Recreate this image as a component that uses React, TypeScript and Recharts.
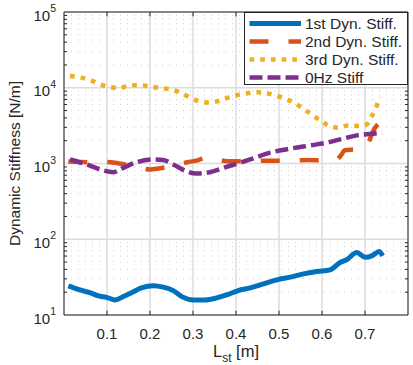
import { LineChart, Line, XAxis, YAxis, CartesianGrid, ReferenceLine } from "recharts";

const FONT = "'Liberation Sans', Arial, Helvetica, sans-serif";
const INK = "#262626";
const GRID = "#dcdcdc";

const xTicks = [0.1, 0.2, 0.3, 0.4, 0.5, 0.6, 0.7];
const yTicks = [10, 100, 1000, 10000, 100000];

// 1st dynamic stiffness
const firstX = [0.01, 0.037, 0.06, 0.08, 0.099, 0.119, 0.138, 0.157, 0.18, 0.208, 0.231, 0.254, 0.274, 0.301, 0.328, 0.355, 0.378, 0.405, 0.433, 0.464, 0.495, 0.526, 0.557, 0.588, 0.619, 0.642, 0.657, 0.681, 0.7, 0.716, 0.733, 0.741];
const firstY = [24.2, 21.4, 19.7, 17.9, 17.1, 15.8, 17.5, 19.7, 22.8, 24.4, 23.3, 21, 17.5, 15.8, 15.8, 16.8, 18.4, 21, 22.8, 25.8, 29.1, 31.6, 34.9, 37.5, 39.5, 49.3, 53.5, 66.8, 58, 60.4, 68.8, 60.4];

// 2nd dynamic stiffness
const secondX = [0.01, 0.035, 0.057, 0.08, 0.107, 0.125, 0.146, 0.17, 0.2, 0.22, 0.242, 0.265, 0.289, 0.31, 0.332, 0.35, 0.37, 0.386, 0.405, 0.425, 0.45, 0.471, 0.495, 0.518, 0.545, 0.567, 0.59, 0.611, 0.63, 0.645, 0.653, 0.675, 0.696, 0.71, 0.719, 0.739];
const secondY = [1060, 1050, 1040, 1050, 1040, 1010, 960, 900, 834, 860, 904, 970, 1045, 1100, 1210, 1150, 1090, 1070, 1070, 1070, 1080, 1090, 1090, 1090, 1100, 1110, 1100, 1090, 1100, 1300, 1500, 1530, 1570, 2000, 2680, 3630];

// 3rd dynamic stiffness
const thirdX = [0.014, 0.04, 0.06, 0.084, 0.107, 0.13, 0.153, 0.177, 0.2, 0.223, 0.247, 0.27, 0.289, 0.312, 0.336, 0.359, 0.382, 0.405, 0.43, 0.45, 0.47, 0.495, 0.518, 0.541, 0.572, 0.595, 0.615, 0.638, 0.661, 0.684, 0.704, 0.716, 0.727, 0.735];
const thirdY = [14300, 13600, 12700, 11100, 10240, 9930, 10800, 10800, 10380, 9930, 9550, 8630, 7640, 6680, 6370, 6680, 7420, 8040, 8500, 8700, 8500, 7800, 7050, 6040, 4590, 3740, 3180, 2970, 3180, 3120, 3290, 4230, 5740, 7500];

// 0 Hz static stiffness
const staticX = [0.014, 0.053, 0.084, 0.115, 0.138, 0.169, 0.208, 0.231, 0.254, 0.285, 0.308, 0.339, 0.378, 0.409, 0.433, 0.479, 0.526, 0.572, 0.611, 0.642, 0.681, 0.719, 0.739];
const staticY = [1130, 970, 834, 767, 877, 1040, 1130, 1110, 970, 790, 738, 767, 904, 1020, 1130, 1390, 1570, 1730, 1880, 2080, 2350, 2470, 2550];

const toRows = (xs: number[], ys: number[]) => xs.map((x, i) => ({ x, y: ys[i] }));

const series = [
  { name: "1st Dyn. Stiff.", rows: toRows(firstX, firstY), color: "#0072BD", width: 5, dash: undefined },
  { name: "2nd Dyn. Stiff.", rows: toRows(secondX, secondY), color: "#D95319", width: 4.5, dash: "19 20" },
  { name: "3rd Dyn. Stiff.", rows: toRows(thirdX, thirdY), color: "#EDB120", width: 4.5, dash: "4.7 6" },
  { name: "0Hz Stiff", rows: toRows(staticX, staticY), color: "#7E2F8E", width: 4.5, dash: "13 5" },
];

// minor log positions 2..9 per decade
const minorY: number[] = [];
for (const d of [10, 100, 1000, 10000]) for (let m = 2; m <= 9; m++) minorY.push(d * m);

const TICK_X = 0.0095; // ~4px inward on x
const TICK_Y = 1.14; // ~4px inward on log y

function YTick(props: any) {
  const { x, y, payload } = props;
  const exp = Math.round(Math.log10(payload.value));
  return (
    <text x={x - 6} y={y + 8.5} textAnchor="end" fill={INK} fontFamily={FONT} fontSize={15}>
      10
      <tspan dy={-8.5} fontSize={10.5}>{exp}</tspan>
    </text>
  );
}

function XTick(props: any) {
  const { x, y, payload } = props;
  return (
    <text x={x} y={y + 21.5} textAnchor="middle" fill={INK} fontFamily={FONT} fontSize={15}>
      {payload.value.toFixed(1)}
    </text>
  );
}

function XLabel(props: any) {
  const vb = props.viewBox;
  const cx = vb.x + vb.width / 2;
  return (
    <text x={cx} y={357} textAnchor="middle" fill={INK} fontFamily={FONT} fontSize={16.5}>
      L
      <tspan dy={5} fontSize={12}>st</tspan>
      <tspan dy={-5}> [m]</tspan>
    </text>
  );
}

function YLabel(props: any) {
  const vb = props.viewBox;
  const cy = vb.y + vb.height / 2;
  return (
    <text x={20} y={cy} transform={`rotate(-90, 20, ${cy})`} textAnchor="middle" fill={INK} fontFamily={FONT} fontSize={15.5}>
      Dynamic Stiffness [N/m]
    </text>
  );
}

function LegendBox() {
  return (
    <svg width={164} height={73} style={{ position: "absolute", left: 244, top: 12, display: "block" }}>
      <rect x={0.5} y={0.5} width={163} height={72} fill="#fff" stroke={INK} strokeWidth={1} />
      {series.map((s, i) => {
        const cy = 11.5 + i * 18;
        return (
          <g key={s.name}>
            <line x1={5.5} x2={57} y1={cy} y2={cy} stroke={s.color} strokeWidth={s.width} strokeDasharray={s.dash} />
            <text x={61} y={cy + 5.5} fill={INK} fontFamily={FONT} fontSize={15.5}>
              {s.name}
            </text>
          </g>
        );
      })}
    </svg>
  );
}

export default function App() {
  return (
    <div style={{ position: "absolute", left: 0, top: 0, width: 413, height: 365, background: "#fff" }}>
      <LineChart width={413} height={365} margin={{ top: 12, right: 5, bottom: 0, left: 0 }}>
        <CartesianGrid stroke={GRID} strokeWidth={1.5} />
        {minorY.map((v) => (
          <ReferenceLine key={"g" + v} y={v} stroke="#cfcfcf" strokeDasharray="1 6" />
        ))}
        <XAxis
          type="number"
          dataKey="x"
          domain={[0, 0.8]}
          ticks={xTicks}
          interval={0}
          height={50}
          tickLine={false}
          tickSize={0}
          tick={XTick}
          axisLine={{ stroke: INK }}
          label={XLabel}
        />
        <YAxis
          type="number"
          dataKey="y"
          scale="log"
          domain={[10, 100000]}
          ticks={yTicks}
          interval={0}
          allowDataOverflow
          width={64}
          tickLine={false}
          tickSize={0}
          tick={YTick}
          axisLine={{ stroke: INK }}
          label={YLabel}
        />
        {series.map((s) => (
          <Line
            key={s.name}
            data={s.rows}
            dataKey="y"
            type="monotone"
            stroke={s.color}
            strokeWidth={s.width}
            strokeDasharray={s.dash}
            strokeLinejoin="round"
            dot={false}
            activeDot={false}
            isAnimationActive={false}
          />
        ))}
        <ReferenceLine x={0.8} stroke={INK} />
        <ReferenceLine y={100000} stroke={INK} />
        {minorY.map((v) => (
          <ReferenceLine key={"l" + v} segment={[{ x: 0, y: v }, { x: TICK_X * 0.75, y: v }]} stroke={INK} />
        ))}
        {minorY.map((v) => (
          <ReferenceLine key={"r" + v} segment={[{ x: 0.8 - TICK_X * 0.75, y: v }, { x: 0.8, y: v }]} stroke={INK} />
        ))}
        {xTicks.map((t) => (
          <ReferenceLine key={"b" + t} segment={[{ x: t, y: 10 }, { x: t, y: 10 * TICK_Y }]} stroke={INK} />
        ))}
        {xTicks.map((t) => (
          <ReferenceLine key={"t" + t} segment={[{ x: t, y: 100000 / TICK_Y }, { x: t, y: 100000 }]} stroke={INK} />
        ))}
      </LineChart>
      <LegendBox />
    </div>
  );
}
